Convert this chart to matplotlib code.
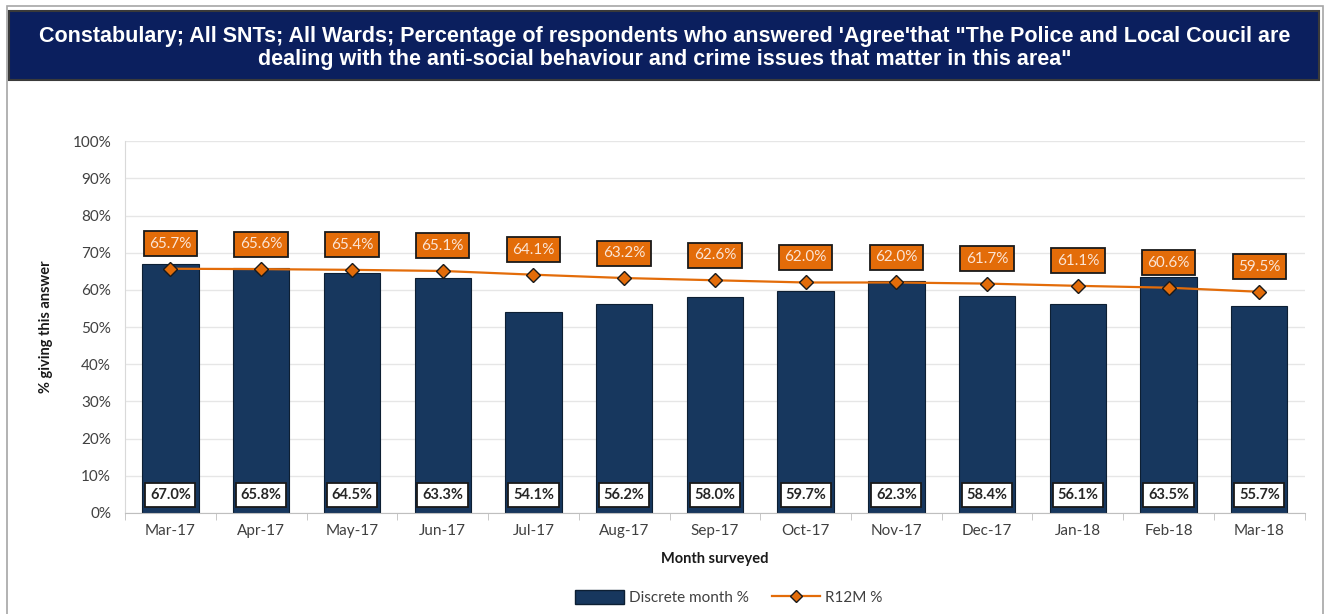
import matplotlib.pyplot as plt
from matplotlib.patches import Rectangle
from matplotlib.lines import Line2D
import numpy as np

months = ["Mar-17", "Apr-17", "May-17", "Jun-17", "Jul-17", "Aug-17", "Sep-17",
          "Oct-17", "Nov-17", "Dec-17", "Jan-18", "Feb-18", "Mar-18"]
discrete = [67.0, 65.8, 64.5, 63.3, 54.1, 56.2, 58.0, 59.7, 62.3, 58.4, 56.1, 63.5, 55.7]
r12m = [65.7, 65.6, 65.4, 65.1, 64.1, 63.2, 62.6, 62.0, 62.0, 61.7, 61.1, 60.6, 59.5]

NAVY = "#17375e"
ORANGE = "#e36c09"
TEXT = "#404040"
FONT = ["Lato", "DejaVu Sans"]

plt.rcParams["font.family"] = FONT

fig = plt.figure(figsize=(13.3, 6.14), dpi=100)

# outer frame and title banner
fig.patches.append(Rectangle((0.005, -0.01), 0.99, 1.0, transform=fig.transFigure,
                             fill=False, edgecolor="#a6a6a6", linewidth=1.2))
fig.patches.append(Rectangle((0.007, 0.870), 0.985, 0.112, transform=fig.transFigure,
                             facecolor="#0b1f5e", edgecolor="#3a3a3a", linewidth=1.5))
fig.text(0.5, 0.922,
         "Constabulary; All SNTs; All Wards; Percentage of respondents who answered 'Agree'that \"The Police and Local Coucil are\n"
         "dealing with the anti-social behaviour and crime issues that matter in this area\"",
         ha="center", va="center", color="white", fontsize=15.5, fontweight="bold",
         family=["Liberation Sans", "DejaVu Sans"], linespacing=1.15)

ax = fig.add_axes([0.094, 0.1645, 0.887, 0.6055])
x = np.arange(len(months))
ax.bar(x, discrete, width=0.62, color=NAVY, edgecolor="#0d1f33", linewidth=0.8,
       zorder=2, label="Discrete month %")
ax.plot(x, r12m, color=ORANGE, linewidth=1.6, marker="D", markersize=7,
        markerfacecolor=ORANGE, markeredgecolor="#1a1a1a", markeredgewidth=1.0, zorder=3)

for xi, v in zip(x, discrete):
    ax.text(xi, 4.8, f"{v:.1f}%", ha="center", va="center", fontsize=10.5,
            fontweight="bold", color="#262626", zorder=4,
            bbox=dict(boxstyle="square,pad=0.32", facecolor="white", edgecolor="#1a1a1a", linewidth=1.3))
for xi, v in zip(x, r12m):
    ax.annotate(f"{v:.1f}%", (xi, v), xytext=(0, 18), textcoords="offset points",
                ha="center", va="center", fontsize=11, color="#fbe5d6", zorder=4,
                bbox=dict(boxstyle="square,pad=0.36", facecolor=ORANGE, edgecolor="#1a1a1a", linewidth=1.3))

ax.set_xlim(-0.5, len(months) - 0.5)
ax.set_ylim(0, 100)
ax.set_yticks(range(0, 101, 10))
ax.set_yticklabels([f"{t}%" for t in range(0, 101, 10)])
ax.set_xticks(x)
ax.set_xticklabels(months)
ax.set_xticks(np.arange(-0.5, len(months)), minor=True)
ax.tick_params(axis="x", which="major", length=0, pad=8, labelsize=11, labelcolor=TEXT)
ax.tick_params(axis="x", which="minor", length=5, color="#bfbfbf")
ax.tick_params(axis="y", length=0, pad=10, labelsize=11, labelcolor=TEXT)
ax.grid(axis="y", color="#e6e6e6", linewidth=1, zorder=0)
ax.set_axisbelow(True)
for s in ["top", "right"]:
    ax.spines[s].set_visible(False)
ax.spines["left"].set_color("#d9d9d9")
ax.spines["bottom"].set_color("#bfbfbf")

ax.set_ylabel("% giving this answer", fontsize=10.5, fontweight="bold", color="#1a1a1a", labelpad=14)
ax.set_xlabel("Month surveyed", fontsize=10.5, fontweight="bold", color="#1a1a1a", labelpad=10)

handles = [Rectangle((0, 0), 1, 1, facecolor=NAVY, edgecolor="#0d1f33"),
           Line2D([], [], color=ORANGE, linewidth=1.6, marker="D", markersize=6,
                  markerfacecolor=ORANGE, markeredgecolor="#1a1a1a")]
fig.legend(handles, ["Discrete month %", "R12M %"], loc="center", bbox_to_anchor=(0.548, 0.027),
           ncol=2, frameon=False, fontsize=11, handlelength=3.2, handleheight=1.0,
           columnspacing=1.5, handletextpad=0.3, labelcolor=TEXT)

fig.savefig("out.png", dpi=100)
